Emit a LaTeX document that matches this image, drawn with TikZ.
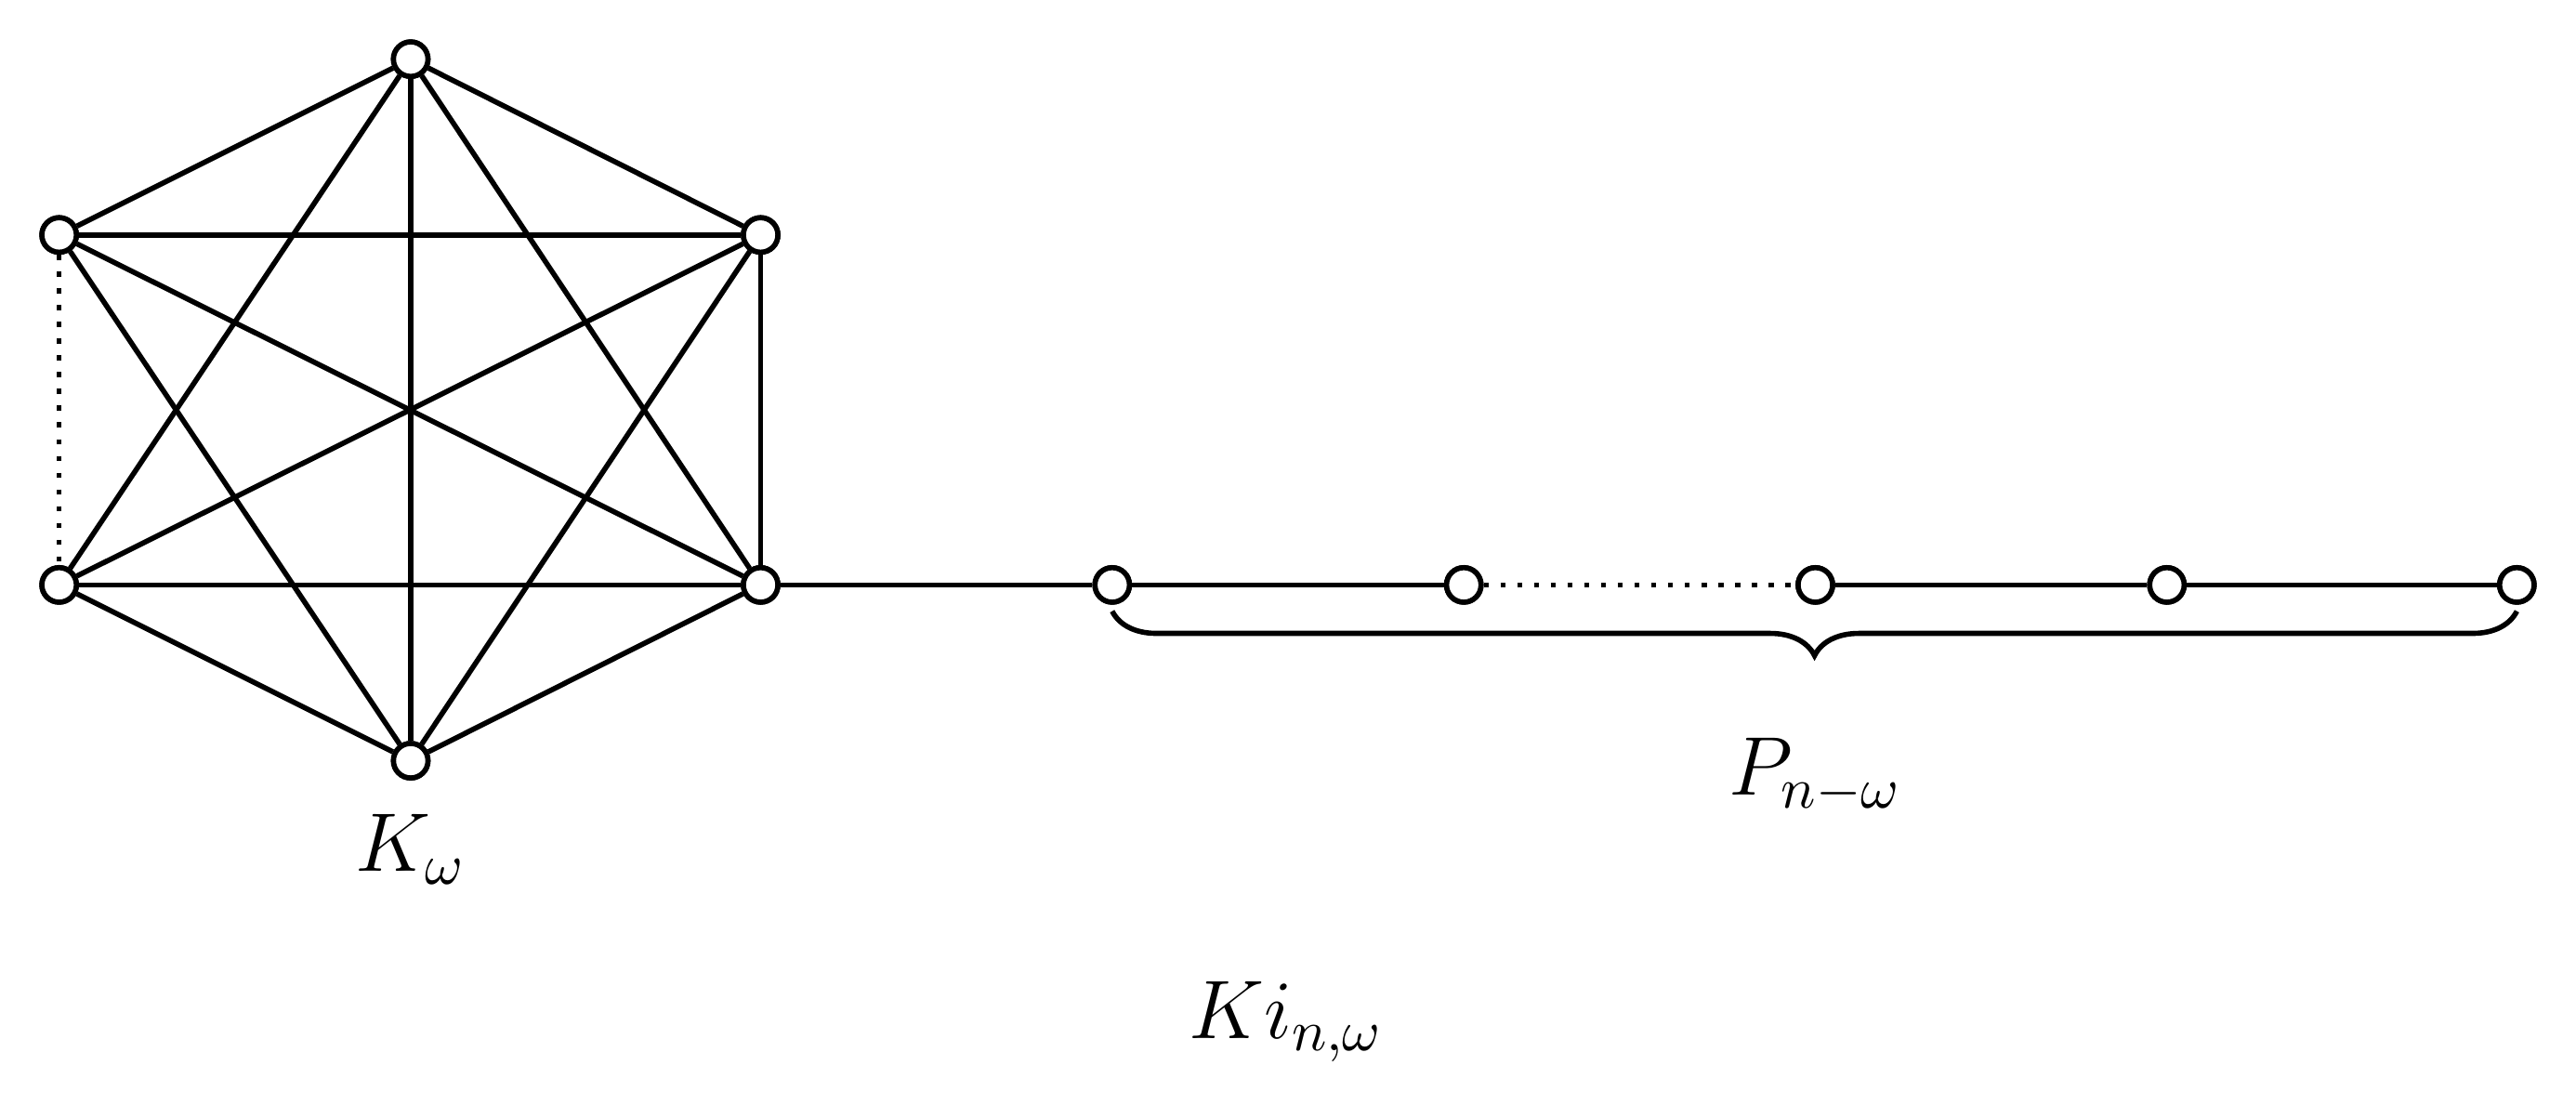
\documentclass[tikz,border=0pt]{standalone}
\usetikzlibrary{decorations.pathreplacing}
\begin{document}
\begin{tikzpicture}[x=0.01cm,y=-0.01cm,
  vtx/.style={circle,draw,fill=white,line width=0.9pt,minimum size=0.21cm,inner sep=0pt},
  edge/.style={line width=0.9pt},
  dots/.style={line width=0.9pt,dotted}]
\useasboundingbox (0,0) rectangle (1568,672);
\node[vtx] (t) at (250,36) {};
\node[vtx] (ul) at (36,143) {};
\node[vtx] (ur) at (463,143) {};
\node[vtx] (ll) at (36,356) {};
\node[vtx] (lr) at (463,356) {};
\node[vtx] (b) at (250,463) {};
\node[vtx] (p1) at (677,356) {};
\node[vtx] (p2) at (891,356) {};
\node[vtx] (p3) at (1105,356) {};
\node[vtx] (p4) at (1319,356) {};
\node[vtx] (p5) at (1532,356) {};
\begin{scope}[on background layer/.style={}]
\end{scope}
\begin{pgfonlayer}{main}\end{pgfonlayer}
\foreach \a/\b in {t/ul,t/ur,t/ll,t/lr,t/b,ul/ur,ul/lr,ul/b,ur/ll,ur/lr,ur/b,ll/lr,ll/b,lr/b,lr/p1,p1/p2,p3/p4,p4/p5}
  \draw[edge] (\a) -- (\b);
\draw[dots] (ul) -- (ll);
\draw[dots] (p2) -- (p3);
\foreach \n in {t,ul,ur,ll,lr,b,p1,p2,p3,p4,p5}
  \node[vtx] at (\n) {};
\coordinate (bl) at (677,372);
\coordinate (br) at (1532,372);
\draw[edge,decorate,decoration={brace,mirror,amplitude=0.27cm}] (bl) -- (br);
\node[font=\Large] (kw) at (250,517) {$K_\omega$};
\node[font=\Large] (pn) at (1105,472) {$P_{n-\omega}$};
\node[font=\Large] (ki) at (783,622) {$Ki_{n,\omega}$};
\end{tikzpicture}
\end{document}
